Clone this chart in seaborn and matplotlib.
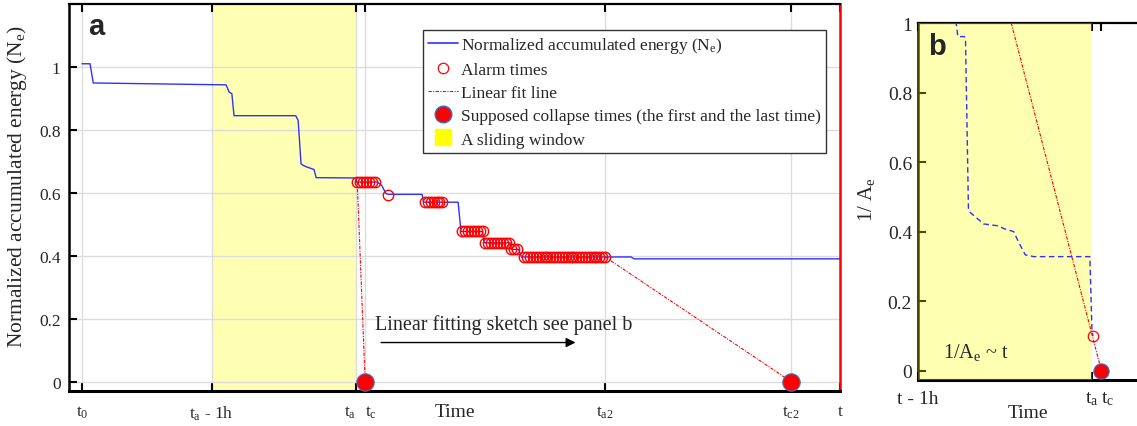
import matplotlib
matplotlib.use('Agg')
import matplotlib.pyplot as plt
import seaborn as sns
from matplotlib.lines import Line2D

# ---------------- data: panel a (time in hours, t0 = 0) ----------------
tick_pos_a = [0.0, 0.90, 1.90, 1.965, 3.63, 4.92, 5.26]
tick_lab_a = [r'$\mathregular{t_0}$', r'$\mathregular{t_a}$ - 1h', r'$\mathregular{t_a}$',
              r'$\mathregular{t_c}$', r'$\mathregular{t_{a2}}$', r'$\mathregular{t_{c2}}$', 't']
yticks_a = [0, 0.2, 0.4, 0.6, 0.8, 1.0]
ytick_lab = ['0', '0.2', '0.4', '0.6', '0.8', '1']

energy_t = [0.00, 0.056, 0.078, 1.00, 1.021, 1.04, 1.055, 1.483, 1.50, 1.52, 1.535,
            1.56, 1.61, 1.625, 1.90, 1.905, 2.05, 2.08, 2.11, 2.13, 2.36, 2.37, 2.61,
            2.63, 2.78, 2.79, 2.97, 2.98, 3.03, 3.05, 3.81, 3.83, 5.26]
energy_v = [1.01, 1.01, 0.949, 0.943, 0.92, 0.915, 0.845, 0.845, 0.83, 0.692, 0.687,
            0.682, 0.674, 0.648, 0.647, 0.634, 0.634, 0.623, 0.597, 0.595, 0.595, 0.570, 0.570,
            0.477, 0.477, 0.441, 0.441, 0.420, 0.420, 0.396, 0.396, 0.390, 0.390]

alarm_levels = [0.634, 0.594, 0.570, 0.477, 0.441, 0.420, 0.396]
alarm_groups = [
    [1.91, 1.93, 1.95, 1.97, 1.99, 2.01, 2.03],
    [2.12],
    [2.38, 2.40, 2.42, 2.44, 2.46, 2.48, 2.50],
    [2.64, 2.66, 2.68, 2.70, 2.72, 2.74, 2.76, 2.78],
    [2.80, 2.82, 2.84, 2.86, 2.88, 2.90, 2.92, 2.94, 2.96],
    [2.98, 3.00, 3.02],
    [3.07, 3.09, 3.11, 3.13, 3.15, 3.17, 3.19, 3.21, 3.23, 3.25, 3.27, 3.29, 3.31, 3.33,
     3.35, 3.37, 3.39, 3.41, 3.43, 3.45, 3.47, 3.49, 3.51, 3.53, 3.55, 3.57, 3.59, 3.61, 3.63],
]

fit1_t = [1.91, 1.965]
fit1_v = [0.634, 0.0]
fit2_t = [3.63, 4.92]
fit2_v = [0.396, 0.0]
collapse_t = [1.965, 4.92]
collapse_v = [0.0, 0.0]
window_a = [0.90, 1.90]

legend_labels = [r'Normalized accumulated energy $\mathregular{(N_e)}$', 'Alarm times',
                 'Linear fit line', 'Supposed collapse times (the first and the last time)',
                 'A sliding window']

# ---------------- data: panel b (time in hours from t - 1h) ----------------
tick_pos_b = [0.0, 1.0, 1.056]
tick_lab_b = ['t - 1h', r'$\mathregular{t_a}$', r'$\mathregular{t_c}$']
inv_t = [0.0, 0.221, 0.231, 0.269, 0.275, 0.292, 0.302, 0.379, 0.456, 0.504, 0.552,
         0.581, 0.619, 0.667, 0.990, 1.002, 1.008]
inv_v = [1.0, 1.0, 0.961, 0.961, 0.955, 0.463, 0.455, 0.422, 0.417, 0.407, 0.400,
         0.369, 0.333, 0.328, 0.328, 0.120, 0.099]
fitb_t = [0.538, 1.056]
fitb_v = [1.0, 0.0]
alarm_b_t = [1.008]
alarm_b_v = [0.099]
collapse_b_t = [1.056]
collapse_b_v = [0.0]
window_b = [0.0, 1.0]

# ---------------- style ----------------
sns.set_style('white')
plt.rcParams['font.family'] = ['Liberation Serif', 'DejaVu Serif']
plt.rcParams['mathtext.fontset'] = 'custom'
plt.rcParams['mathtext.rm'] = 'Liberation Serif'
plt.rcParams['mathtext.it'] = 'Liberation Serif:italic'
plt.rcParams['mathtext.bf'] = 'Liberation Serif:bold'

BLUE = '#3030ff'
RED = '#ff0000'
DOT_EDGE = '#3a6fc4'
YELLOW_LIGHT = '#ffffb3'
FITDASH = (0, (3, 1.2, 1, 1.2))

fig = plt.figure(figsize=(11.37, 4.27), dpi=100)

# ======================= panel a =======================
ax = fig.add_axes([0.0607, 0.082, 0.6781, 0.9063])
ax.axvspan(window_a[0], window_a[1], color=YELLOW_LIGHT, zorder=0.1, lw=0)
ax.set_axisbelow(True)
ax.grid(True, color='#dcdcdc', lw=1)

sns.lineplot(x=energy_t, y=energy_v, ax=ax, sort=False, estimator=None,
             color=BLUE, lw=1.0, zorder=3)
for lvl, grp in zip(alarm_levels, alarm_groups):
    ax.plot(grp, [lvl] * len(grp), ls='none', marker='o', mfc='none', mec=RED,
            ms=7.5, mew=1.0, zorder=4)
sns.lineplot(x=fit1_t, y=fit1_v, ax=ax, sort=False, estimator=None, color=RED,
             lw=0.8, linestyle=FITDASH, zorder=3)
sns.lineplot(x=fit2_t, y=fit2_v, ax=ax, sort=False, estimator=None, color=RED,
             lw=0.8, linestyle=FITDASH, zorder=3)
ax.plot(collapse_t, collapse_v, ls='none', marker='o', mfc=RED, mec=DOT_EDGE, ms=12.5,
        mew=0.8, zorder=6, clip_on=False)

ax.set_xlim(-0.09, 5.26)
ax.set_ylim(-0.03, 1.2)
ax.set_xticks(tick_pos_a)
ax.set_xticklabels(tick_lab_a)
ax.set_yticks(yticks_a)
ax.set_yticklabels(ytick_lab)
ax.tick_params(axis='both', direction='in', length=6, width=1.5, labelsize=12.5,
               bottom=True, top=True, left=True, right=False, color='k')
ax.tick_params(axis='x', pad=9)
ax.tick_params(axis='y', pad=6)
xl = ax.get_xticklabels()
xl[2].set_ha('right')
xl[3].set_ha('left')
for s in ['left', 'top', 'bottom']:
    ax.spines[s].set_color('k')
ax.spines['left'].set_linewidth(1.8)
ax.spines['top'].set_linewidth(1.6)
ax.spines['bottom'].set_linewidth(2.2)
ax.spines['right'].set_color(RED)
ax.spines['right'].set_linewidth(1.8)

ax.set_xlabel('Time', fontsize=14)
ax.xaxis.set_label_coords(0.5, -0.03)
ax.set_ylabel(r'Normalized accumulated energy $\mathregular{(N_e)}$', fontsize=15.5)
ax.yaxis.set_label_coords(-0.052, 0.53)

ax.text(0.035, 0.943, 'a', transform=ax.transAxes, fontsize=21, fontweight='bold',
        family='Liberation Sans', ha='center', va='center')

ax.text(2.035, 0.184, 'Linear fitting sketch see panel b', fontsize=14.5,
        ha='left', va='center')
ax.annotate('', xy=(3.444, 0.124), xytext=(2.056, 0.124),
            arrowprops=dict(arrowstyle='-|>', color='k', lw=1, mutation_scale=14))

handles = [
    Line2D([], [], color=BLUE, lw=1.2),
    Line2D([], [], ls='none', marker='o', mfc='none', mec=RED, ms=7.5, mew=0.9),
    Line2D([], [], color=RED, lw=0.8, ls=FITDASH),
    Line2D([], [], ls='none', marker='o', mfc=RED, mec=DOT_EDGE, ms=12, mew=1),
    Line2D([], [], ls='none', marker='s', mfc='#ffff00', mec='#ffff00', ms=12),
]
leg = ax.legend(handles, legend_labels, loc='upper left', bbox_to_anchor=(0.459, 0.933),
                fontsize=12.5, frameon=True, fancybox=False, edgecolor='#333333',
                handlelength=1.75, handletextpad=0.15, labelspacing=0.4,
                borderpad=0.3, borderaxespad=0, framealpha=1)
leg.get_frame().set_linewidth(1.0)

# ======================= panel b =======================
bx = fig.add_axes([0.8071, 0.1077, 0.1935, 0.836])
sns.lineplot(x=inv_t, y=inv_v, ax=bx, sort=False, estimator=None, color=BLUE,
             lw=1.0, linestyle=(0, (4, 2.5)), zorder=4)
sns.lineplot(x=fitb_t, y=fitb_v, ax=bx, sort=False, estimator=None, color=RED,
             lw=0.8, linestyle=FITDASH, zorder=4)
bx.plot(alarm_b_t, alarm_b_v, ls='none', marker='o', mfc='none', mec=RED, ms=7.5,
        mew=0.9, zorder=5)
bx.plot(collapse_b_t, collapse_b_v, ls='none', marker='o', mfc=RED, mec=DOT_EDGE,
        ms=11, mew=0.8, zorder=6, clip_on=False)
bx.axvspan(window_b[0], window_b[1], color='#ffff00', alpha=0.3, zorder=2.6, lw=0)

bx.set_xlim(0, 1.265)
bx.set_ylim(-0.027, 1.0)
bx.set_xticks(tick_pos_b)
bx.set_xticklabels(tick_lab_b)
bx.set_yticks(yticks_a)
bx.set_yticklabels(ytick_lab)
bx.tick_params(axis='both', direction='in', length=6, width=1.5, labelsize=14,
               bottom=True, top=True, left=True, right=False, color='k')
bx.tick_params(axis='x', pad=7)
bx.tick_params(axis='y', pad=4)
bl = bx.get_xticklabels()
bl[2].set_ha('left')
for s in ['left', 'top', 'bottom']:
    bx.spines[s].set_color('k')
bx.spines['left'].set_linewidth(1.8)
bx.spines['top'].set_linewidth(1.6)
bx.spines['bottom'].set_linewidth(2.2)
bx.spines['right'].set_visible(False)

bx.set_xlabel('Time', fontsize=14)
bx.xaxis.set_label_coords(0.5, -0.067)
bx.set_ylabel(r'1/ $\mathregular{A_e}$', fontsize=15)
bx.yaxis.set_label_coords(-0.186, 0.507)

bx.text(0.088, 0.936, 'b', transform=bx.transAxes, fontsize=21, fontweight='bold',
        family='Liberation Sans', ha='center', va='center')
bx.text(0.115, 0.081, r'1/$\mathregular{A_e}$ ~ t', transform=bx.transAxes, fontsize=14.5,
        ha='left', va='center', zorder=7)

fig.savefig('out.png', dpi=100)
